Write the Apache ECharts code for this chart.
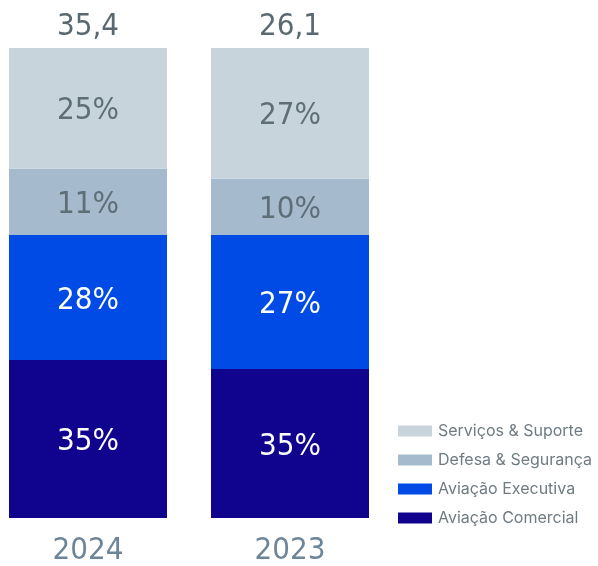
<!DOCTYPE html>
<html><head><meta charset="utf-8">
<script src="https://cdn.jsdelivr.net/npm/echarts@6/dist/echarts.min.js"></script>
<style>html,body{margin:0;padding:0;background:#fff}#c{width:598px;height:566px}</style>
</head><body><div id="c"></div>
<script>
const years = ['2024', '2023'];
const totals = ['35,4', '26,1'];
const seriesNames = ['Aviação Comercial', 'Aviação Executiva', 'Defesa & Segurança', 'Serviços & Suporte'];
const comercial = [33.6, 31.7];
const executiva = [26.6, 28.5];
const defesa = [14.1, 12.0];
const servicos = [25.7, 27.8];
const comercialLabels = ['35%', '35%'];
const executivaLabels = ['28%', '27%'];
const defesaLabels = ['11%', '10%'];
const servicosLabels = ['25%', '27%'];

const colors = ['#10048E', '#004AE6', '#A6BACE', '#C8D4DC'];
const labelColors = ['#ffffff', '#ffffff', '#5E6E76', '#5E6E76'];
const values = [comercial, executiva, defesa, servicos];
const labels = [comercialLabels, executivaLabels, defesaLabels, servicosLabels];
const FONT = '"Liberation Sans Narrow", "DejaVu Sans Condensed", Roboto, sans-serif';

const chart = echarts.init(document.getElementById('c'), null, {renderer: 'canvas'});
chart.setOption({
  animation: false,
  grid: {left: 88, right: 308, top: 48, bottom: 42, containLabel: false},
  xAxis: [
    {type: 'category', data: years, position: 'bottom', boundaryGap: false,
     axisLine: {show: false}, axisTick: {show: false}, splitLine: {show: false},
     axisLabel: {color: '#6D8598', fontSize: 31, fontFamily: FONT, margin: 17}},
    {type: 'category', data: totals, position: 'top', boundaryGap: false,
     axisLine: {show: false}, axisTick: {show: false}, splitLine: {show: false},
     axisLabel: {color: '#5A6870', fontSize: 31, fontFamily: FONT, margin: 6}}
  ],
  yAxis: {type: 'value', min: 0, max: 100, show: false},
  legend: {
    orient: 'vertical', left: 393, top: 417, itemWidth: 34, itemHeight: 11, itemGap: 11,
    icon: 'rect',
    data: ['Serviços & Suporte', 'Defesa & Segurança', 'Aviação Executiva', 'Aviação Comercial'],
    textStyle: {color: '#6F7B82', fontSize: 16, fontFamily: 'Inter, Roboto, sans-serif', padding: [0, 0, 0, 1], lineHeight: 18}
  },
  series: seriesNames.map((n, i) => ({
    name: n, type: 'bar', stack: 'a', barWidth: 158, clip: false,
    itemStyle: {color: colors[i]},
    data: values[i],
    label: {show: true, position: 'inside', color: labelColors[i], fontSize: 31, fontFamily: FONT,
      offset: [0, 3],
      formatter: p => labels[i][p.dataIndex]}
  }))
});
</script></body></html>
